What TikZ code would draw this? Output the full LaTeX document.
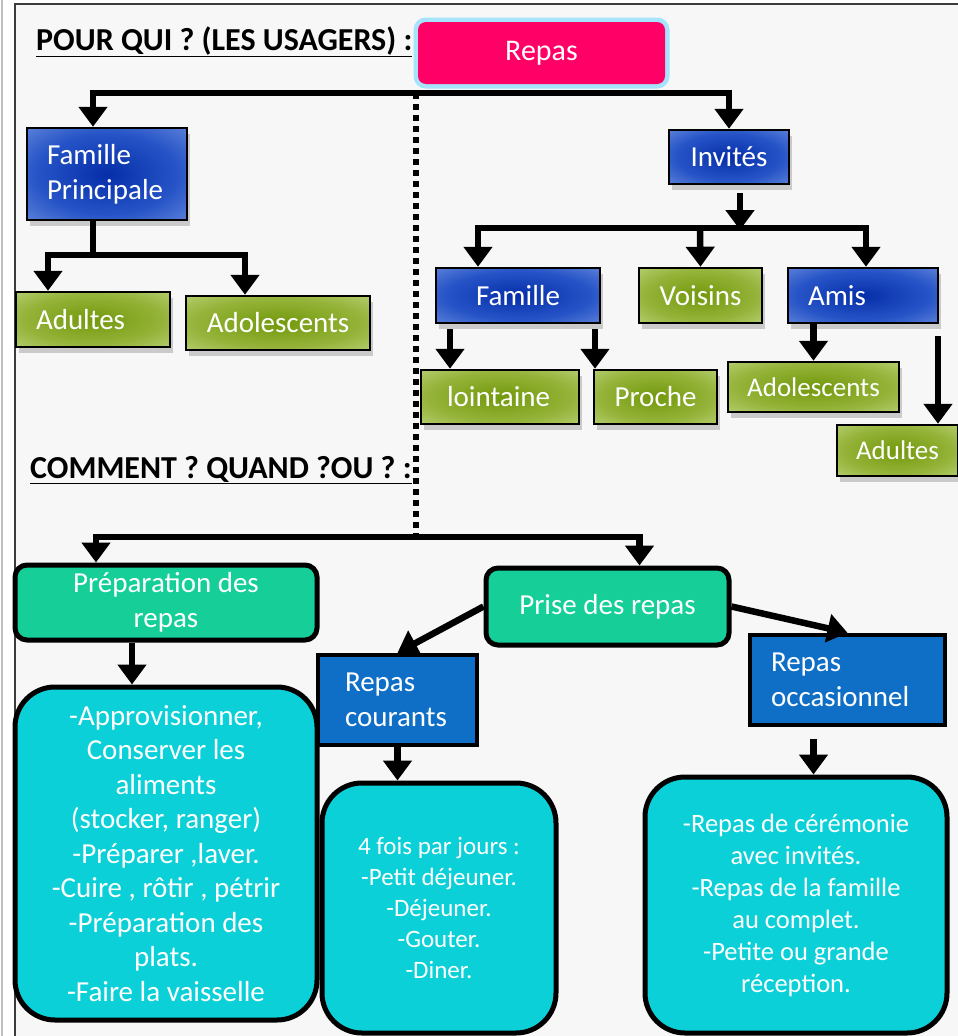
\documentclass[tikz,border=0pt]{standalone}
\usepackage{fontspec}
\setmainfont{Carlito}
\usepackage{xcolor}
\usepackage{tikz}
\usetikzlibrary{arrows.meta,positioning,calc,shadows}
\definecolor{repaspink}{RGB}{255,0,102}
\definecolor{glow}{RGB}{165,228,250}
\definecolor{mint}{RGB}{22,207,152}
\definecolor{turq}{RGB}{12,208,216}
\definecolor{deepblue}{RGB}{15,111,198}
\definecolor{framegray}{RGB}{60,60,60}
\pgfdeclareradialshading{bluefade}{\pgfpoint{0bp}{0bp}}{%
  rgb(0bp)=(0.02,0.18,0.66); rgb(22bp)=(0.15,0.33,0.78); rgb(42bp)=(0.45,0.58,0.88); rgb(50bp)=(0.62,0.72,0.93)}
\pgfdeclareradialshading{greenfade}{\pgfpoint{0bp}{0bp}}{%
  rgb(0bp)=(0.45,0.60,0.05); rgb(22bp)=(0.58,0.70,0.22); rgb(42bp)=(0.76,0.85,0.52); rgb(50bp)=(0.84,0.91,0.66)}
\tikzset{
  box/.style={inner sep=0pt, text=white, align=center, font=\fontsize{29}{35}\selectfont},
  shade/.style={drop shadow={shadow xshift=3pt, shadow yshift=-6pt, opacity=.18, fill=black}},
  pinkbox/.style={box, fill=repaspink, rounded corners=8pt, font=\fontsize{30}{36}\selectfont,
    preaction={draw=glow, line width=9pt, rounded corners=10pt}},
  bluebox/.style={box, shade, draw=black, line width=2.5pt, shading=bluefade},
  greenbox/.style={box, shade, draw=black, line width=2.5pt, shading=greenfade},
  roundbox/.style={box, draw=black, line width=5pt, rounded corners=12pt, fill=mint},
  deepbox/.style={box, draw=black, line width=4.5pt, fill=deepblue},
  listbox/.style={box, draw=black, line width=5pt, rounded corners=40pt, fill=turq},
  heading/.style={anchor=base west, inner sep=0pt, font=\bfseries\fontsize{32}{36}\selectfont},
  bar/.style={line width=6.5pt},
  arr/.style={line width=6.5pt, -{Triangle[width=28pt,length=20pt]}},
  dots/.style={line width=6pt, dash pattern=on 6pt off 5pt},
}
\begin{document}
\begin{tikzpicture}[x=1pt,y=-1pt]
\useasboundingbox (0,0) rectangle (958,1036);
% page
\fill[white] (0,0) rectangle (958,1036);
\fill[black!3] (15,4) rectangle (958,1036);
\draw[black!25, line width=2pt] (1.5,0) -- (1.5,1036);
\draw[framegray, line width=1.5pt] (15,1036) -- (15,4) -- (958,4);
% headings
\node[heading] (qui) at (36,50) {\underline{POUR QUI ? (LES USAGERS) :}};
\node[heading] (comment) at (30,478) {\underline{COMMENT ? QUAND ?OU ? :}};
% usagers
\node[pinkbox, minimum width=247pt, minimum height=62pt] (repas) at (541.5,53) {Repas};
\node[bluebox, minimum width=160pt, minimum height=92pt, text width=120pt, align=left] (fp) at (107,174) {Famille\\Principale};
\node[bluebox, minimum width=120pt, minimum height=54pt] (inv) at (729,157) {Invités};
\node[greenbox, minimum width=154pt, minimum height=55pt, text width=114pt, align=left] (adu1) at (93,319.5) {Adultes};
\node[greenbox, minimum width=184pt, minimum height=54pt] (ado1) at (278,323) {Adolescents};
\node[bluebox, minimum width=164pt, minimum height=55pt] (fam) at (518,295.5) {Famille};
\node[greenbox, minimum width=123pt, minimum height=55pt] (vois) at (700.5,295.5) {Voisins};
\node[bluebox, minimum width=150pt, minimum height=55pt, text width=110pt, align=left] (amis) at (863,295.5) {Amis};
\node[greenbox, minimum width=158pt, minimum height=54pt, text width=106pt, align=left] (loin) at (500,397) {lointaine};
\node[greenbox, minimum width=123pt, minimum height=54pt] (proche) at (655.5,397) {Proche};
\node[greenbox, minimum width=171pt, minimum height=50pt, font=\fontsize{27}{33}\selectfont] (ado2) at (813.5,387) {Adolescents};
\node[greenbox, minimum width=121pt, minimum height=51pt, font=\fontsize{27}{33}\selectfont] (adu2) at (897.5,450.5) {Adultes};
% comment / quand / ou
\node[roundbox, minimum width=302pt, minimum height=75pt] (prep) at (166,602.5) {Préparation des\\repas};
\node[roundbox, minimum width=243pt, minimum height=77pt] (prise) at (607.5,606.5) {Prise des repas};
\node[deepbox, minimum width=159pt, minimum height=90pt, text width=105pt, align=left] (cour) at (397.5,700) {Repas\\courants};
\node[deepbox, minimum width=195pt, minimum height=90pt, text width=153pt, align=left] (occ) at (847.5,680) {Repas\\occasionnel};
\node[listbox, minimum width=302pt, minimum height=333pt, font=\fontsize{29}{34.5}\selectfont] (taches) at (166,853.5)
  {-Approvisionner,\\Conserver les\\aliments\\(stocker, ranger)\\-Préparer ,laver.\\-Cuire , rôtir , pétrir\\-Préparation des\\plats.\\-Faire la vaisselle};
\node[listbox, minimum width=234pt, minimum height=250pt, font=\fontsize{25}{31}\selectfont] (jours) at (439,908)
  {4 fois par jours :\\-Petit déjeuner.\\-Déjeuner.\\-Gouter.\\-Diner.};
\node[listbox, minimum width=302pt, minimum height=256pt, font=\fontsize{26.5}{32}\selectfont] (fetes) at (796,905)
  {-Repas de cérémonie\\avec invités.\\-Repas de la famille\\au complet.\\-Petite ou grande\\réception.};
% connectors
\coordinate (top) at (416,93);
\coordinate (bas) at (416,537);
\coordinate (fork1) at (93,255);
\coordinate (fork2) at (700,228);
\draw[dots] (top) -- (bas);
\draw[arr] (top) -| ([xshift=-14pt]fp.north);
\draw[arr] (top) -| (inv.north);
\draw[bar] ([xshift=-14pt]fp.south) -- (fork1);
\draw[arr] (fork1) -| ([xshift=-45pt]adu1.north);
\draw[arr] (fork1) -| ([xshift=-33pt]ado1.north);
\draw[arr] ([xshift=11pt,yshift=-8pt]inv.south) -- ([xshift=11pt,yshift=-8pt]inv.south |- 0,222);
\draw[arr] (fork2) -| ([xshift=-40pt]fam.north);
\draw[arr] (fork2) -- (vois.north);
\draw[arr] (fork2) -| ([xshift=3pt]amis.north);
\draw[arr] ([xshift=-68pt,yshift=-5pt]fam.south) -- ([xshift=-68pt]fam.south |- loin.north);
\draw[arr] ([xshift=77pt,yshift=-5pt]fam.south) -- ([xshift=77pt]fam.south |- proche.north);
\draw[arr] (amis.south -| ado2.north) -- (ado2.north);
\draw[arr] ([xshift=75pt,yshift=-12pt]amis.south) -- ([xshift=75pt]amis.south |- adu2.north);
\draw[arr] (bas) -| ([xshift=-70pt]prep.north);
\draw[arr] (bas) -| ([xshift=32pt]prise.north);
\draw[arr] ([xshift=-34pt]prep.south) -- ([xshift=-34pt]prep.south |- taches.north);
\draw[arr] (prise.west) -- (cour.north);
\draw[arr] (prise.east) -- (occ.north);
\draw[arr] (cour.south) -- (cour.south |- jours.north);
\draw[arr] ([xshift=-34pt,yshift=-12pt]occ.south) -- ([xshift=-34pt]occ.south |- fetes.north);
\end{tikzpicture}
\end{document}
